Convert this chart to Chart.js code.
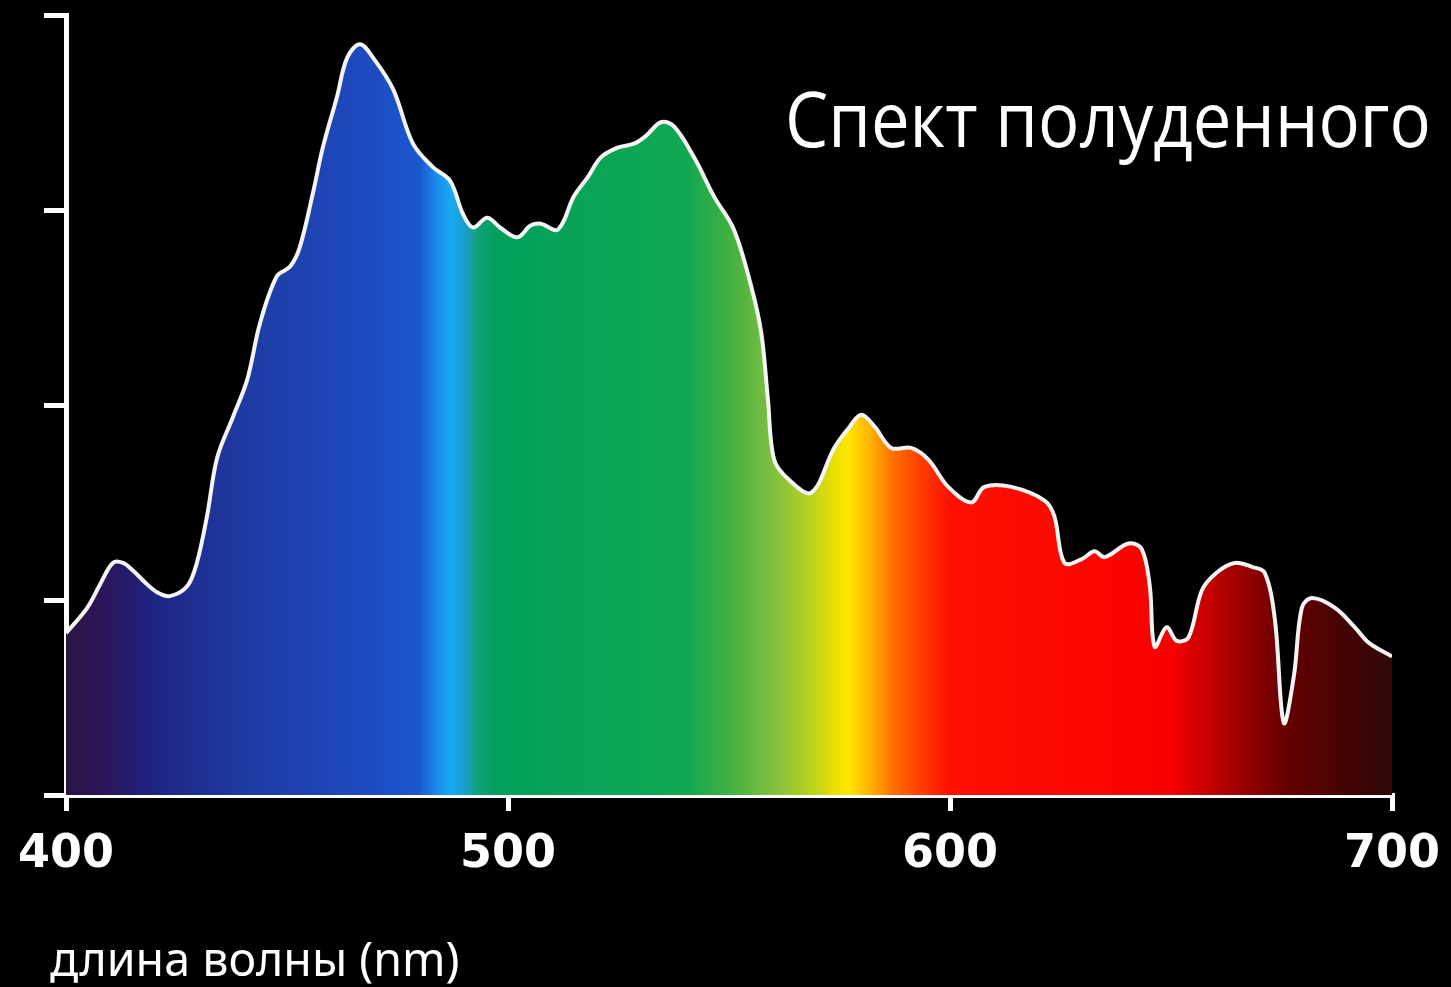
<!DOCTYPE html>
<html lang="ru">
<head>
<meta charset="UTF-8">
<title>Спект полуденного</title>
<script src="https://cdn.jsdelivr.net/npm/chart.js"></script>
<style>
  html, body { margin: 0; padding: 0; background: #000; }
  #wrap { position: relative; width: 1451px; height: 987px; }
  #title {
    position: absolute; left: 785px; top: 80px; color: #fff;
    font-family: "Open Sans"; font-size: 76px; line-height: 1;
    white-space: nowrap; transform-origin: left top; transform: scaleX(0.905);
  }
  #xlabel {
    position: absolute; left: 50px; top: 935px; color: #fff;
    font-family: "Noto Sans"; font-size: 47px; line-height: 1; white-space: nowrap;
    transform-origin: left top; transform: scaleX(0.99);
  }
</style>
</head>
<body>
<div id="wrap">
  <canvas id="chart"></canvas>
  <div id="title">Спект полуденного</div>
  <div id="xlabel">длина волны (nm)</div>
</div>

<script>
// wavelength (nm) and relative intensity
const wavelengths = [
  400, 404.8, 407.7, 410.6, 412.9, 415.2, 417.9, 420.6, 423.5, 427.4,
  429.6, 431.9, 434.2, 437.8, 441.0, 443.9, 447.7, 450.7, 452.9, 455.9,
  458.1, 461.3, 463.6, 466.5, 469.5, 474.0, 478.5, 483.0, 486.9, 489.8,
  492.1, 495.3, 498.2, 502.1, 505.1, 507.4, 511.3, 514.9, 518.1, 521.0,
  524.8, 528.5, 531.2, 534.6, 537.5, 542.1, 546.6, 551.1, 555.0, 557.3,
  558.8, 560.2, 563.4, 568.6, 573.8, 577.0, 579.9, 582.9, 586.7, 591.2,
  595.1, 599.6, 604.8, 607.8, 613.9, 621.4, 623.6, 625.9, 629.8, 632.7,
  635.0, 640.4, 643.4, 645.2, 646.3, 649.0, 651.3, 654.0, 657.0, 660.3,
  664.4, 668.3, 671.2, 673.5, 675.5, 677.8, 679.6, 681.9, 687.1, 691.6,
  694.8, 700
];
const intensity = [
  0.83, 0.96, 1.08, 1.19, 1.19, 1.15, 1.09, 1.04, 1.02, 1.07,
  1.19, 1.43, 1.73, 1.94, 2.13, 2.42, 2.66, 2.71, 2.81, 3.09,
  3.32, 3.58, 3.78, 3.85, 3.78, 3.62, 3.34, 3.22, 3.15, 2.98,
  2.91, 2.96, 2.91, 2.86, 2.92, 2.93, 2.90, 3.07, 3.17, 3.27,
  3.32, 3.34, 3.38, 3.45, 3.43, 3.27, 3.07, 2.90, 2.61, 2.37,
  2.03, 1.72, 1.62, 1.55, 1.78, 1.88, 1.95, 1.89, 1.78, 1.78,
  1.72, 1.58, 1.50, 1.58, 1.58, 1.51, 1.43, 1.19, 1.21, 1.25,
  1.22, 1.29, 1.26, 1.07, 0.76, 0.86, 0.79, 0.81, 1.05, 1.14,
  1.19, 1.17, 1.14, 0.90, 0.37, 0.61, 0.96, 1.01, 0.96, 0.86,
  0.78, 0.71
];
const xTicks = [400, 500, 600, 700];
const yTicks = [0, 1, 2, 3, 4];

// colour of the spectrum at a given wavelength
const spectrumStops = [400, 410, 420, 440, 470, 480, 484, 487, 490, 493, 497, 540, 550, 560, 568, 574, 577, 582, 587, 593, 600, 650, 656, 665, 675, 690, 700];
const spectrumColors = [
  '#2e1242', '#2a1660', '#1e2482', '#1e3aa2', '#1d4cc2', '#1a58d0', '#1a8eec', '#18a8f4',
  '#189ed0', '#10a078', '#02a05c', '#10a852', '#40b040', '#80c040', '#b4d020', '#ece000',
  '#ffe600', '#ffb000', '#ff7000', '#ff4000', '#ff1000', '#f80000', '#d20000', '#a00000',
  '#6a0000', '#420404', '#300808'
];

const points = wavelengths.map((w, i) => ({ x: w, y: intensity[i] }));

function spectrumFill(ctx) {
  const chart = ctx.chart;
  const area = chart.chartArea;
  if (!area) return 'rgba(0,0,0,0)';
  const xs = chart.scales.x;
  const g = chart.ctx.createLinearGradient(area.left, 0, area.right, 0);
  spectrumStops.forEach((nm, i) => {
    const t = (xs.getPixelForValue(nm) - area.left) / (area.right - area.left);
    g.addColorStop(Math.min(1, Math.max(0, t)), spectrumColors[i]);
  });
  return g;
}

new Chart(document.getElementById('chart'), {
  type: 'line',
  data: {
    datasets: [{
      data: points,
      borderColor: '#f4f4f4',
      borderWidth: 4,
      backgroundColor: spectrumFill,
      fill: 'origin',
      pointRadius: 0,
      tension: 0.35
    }]
  },
  options: {
    responsive: true,
    maintainAspectRatio: false,
    animation: false,
    layout: { padding: { left: 44, right: 59, top: 15, bottom: 112 } },
    plugins: { legend: { display: false }, tooltip: { enabled: false } },
    scales: {
      x: {
        type: 'linear',
        min: 400, max: 700,
        afterBuildTicks: (s) => { s.ticks = xTicks.map(v => ({ value: v })); },
        afterFit: (s) => { s.height = 80; s.paddingLeft = 0; s.paddingRight = 0; },
        ticks: { color: '#fff', padding: 16, maxRotation: 0, font: { family: 'DejaVu Sans', weight: 'bold', size: 46 } },
        grid: { drawOnChartArea: false, color: '#fff', lineWidth: 5, tickLength: 16 },
        border: { color: '#fff', width: 5 }
      },
      y: {
        min: 0, max: 4,
        afterBuildTicks: (s) => { s.ticks = yTicks.map(v => ({ value: v })); },
        afterFit: (s) => { s.width = 22; },
        ticks: { display: false },
        grid: { drawOnChartArea: false, color: '#fff', lineWidth: 5, tickLength: 22 },
        border: { color: '#fff', width: 5 }
      }
    }
  }
});
</script>
</body>
</html>
